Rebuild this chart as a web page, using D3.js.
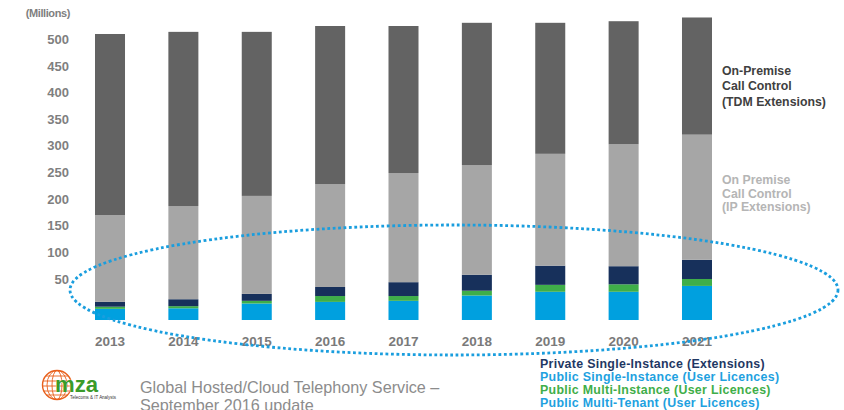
<!DOCTYPE html>
<html>
<head>
<meta charset="utf-8">
<script src="https://cdn.jsdelivr.net/npm/d3@7"></script>
<style>
  body { margin: 0; background: #fff; }
  svg { display: block; font-family: "Liberation Sans", Arial, sans-serif; }
</style>
</head>
<body>
<svg id="chart" width="844" height="410"></svg>
<script>
// data (millions)
const years = ['2013', '2014', '2015', '2016', '2017', '2018', '2019', '2020', '2021'];
const multiTenant = [21, 22, 31, 34, 36, 46, 53, 53, 64];
const multiInstance = [4, 4, 5, 11, 9, 9, 13, 14, 13];
const privateSingle = [9, 13, 13, 17, 26, 30, 36, 34, 36];
const ipExtensions = [163, 175, 184, 193, 205, 206, 210, 229, 235];
const tdmExtensions = [340, 327, 308, 297, 276, 267, 246, 231, 220];
const tickValues = [50, 100, 150, 200, 250, 300, 350, 400, 450, 500];

const keys = ['multiTenant', 'multiInstance', 'privateSingle', 'ip', 'tdm'];
const colors = {
  multiTenant: '#00a0df',
  multiInstance: '#3fae49',
  privateSingle: '#17305b',
  ip: '#a6a6a6',
  tdm: '#636363'
};

const rows = years.map((y, i) => ({
  year: y,
  multiTenant: multiTenant[i],
  multiInstance: multiInstance[i],
  privateSingle: privateSingle[i],
  ip: ipExtensions[i],
  tdm: tdmExtensions[i]
}));

const svg = d3.select('#chart');

const x = d3.scaleBand()
  .domain(years)
  .range([95, 712])
  .paddingInner(0.591)
  .paddingOuter(0);

const y = d3.scaleLinear()
  .domain([0, 500])
  .range([320, 320 - 500 * 0.5326]);

const series = d3.stack().keys(keys)(rows);

svg.append('g')
  .selectAll('g')
  .data(series)
  .join('g')
  .attr('fill', d => colors[d.key])
  .selectAll('rect')
  .data(d => d)
  .join('rect')
  .attr('x', d => x(d.data.year))
  .attr('width', x.bandwidth())
  .attr('y', d => y(d[1]))
  .attr('height', d => y(d[0]) - y(d[1]));

// value axis (labels sit a bit above the bar scale, as in the original)
const yAxis = svg.append('g')
  .attr('transform', 'translate(69,-14.4)')
  .call(d3.axisLeft(y).tickValues(tickValues).tickSize(0).tickPadding(0));
yAxis.select('.domain').remove();
yAxis.selectAll('text')
  .attr('font-family', '"Liberation Sans", Arial, sans-serif')
  .style('font-size', '13px')
  .style('font-weight', 'bold')
  .attr('fill', '#7f7f7f')
  .attr('text-anchor', 'end');

svg.append('text')
  .attr('x', 70).attr('y', 17)
  .attr('text-anchor', 'end')
  .style('font-size', '11px')
  .style('font-weight', 'bold')
  .style('letter-spacing', '-0.4px')
  .attr('fill', '#7f7f7f')
  .text('(Millions)');

// year axis
const xAxis = svg.append('g')
  .attr('transform', 'translate(0,336)')
  .call(d3.axisBottom(x).tickSize(0).tickPadding(0));
xAxis.select('.domain').remove();
xAxis.selectAll('text')
  .attr('font-family', '"Liberation Sans", Arial, sans-serif')
  .style('font-size', '13.5px')
  .style('font-weight', 'bold')
  .attr('fill', '#7a7a7a')
  .attr('dy', '0.35em')
  .attr('y', 5);

// dotted ellipse
svg.append('ellipse')
  .attr('cx', 454).attr('cy', 290)
  .attr('rx', 384).attr('ry', 65)
  .attr('fill', 'none')
  .attr('stroke', '#1a9ede')
  .attr('stroke-width', 2.8)
  .attr('stroke-dasharray', '2.8 2.6');

// right-side labels
function multiLine(lines, x0, y0, lh, color) {
  const t = svg.append('text')
    .attr('x', x0).attr('y', y0)
    .style('font-size', '12.3px')
    .style('font-weight', 'bold')
    .attr('fill', color);
  lines.forEach((l, i) => {
    t.append('tspan').attr('x', x0).attr('y', y0 + i * lh).text(l);
  });
}
multiLine(['On-Premise', 'Call Control', '(TDM Extensions)'], 722, 74.8, 15.5, '#404040');
multiLine(['On Premise', 'Call Control', '(IP Extensions)'], 722, 183.8, 13.7, '#b5b5b5');

// legend
const legendItems = [
  { label: 'Private Single-Instance (Extensions)', color: '#1f3864' },
  { label: 'Public Single-Instance (User Licences)', color: '#1ea1e0' },
  { label: 'Public Multi-Instance (User Licences)', color: '#3fae49' },
  { label: 'Public Multi-Tenant (User Licences)', color: '#1ea1e0' }
];
svg.append('g')
  .selectAll('text')
  .data(legendItems)
  .join('text')
  .attr('x', 540)
  .attr('y', (d, i) => 367.5 + i * 13.1)
  .style('font-size', '12.4px')
  .style('font-weight', 'bold')
  .style('letter-spacing', '0.3px')
  .attr('fill', d => d.color)
  .text(d => d.label);

// footer text
svg.append('text')
  .attr('x', 140).attr('y', 392.5)
  .style('font-size', '16.2px')
  .attr('fill', '#8c8c8c')
  .text('Global Hosted/Cloud Telephony Service \u2013');
svg.append('text')
  .attr('x', 140).attr('y', 411)
  .style('font-size', '16.2px')
  .attr('fill', '#8c8c8c')
  .text('September 2016 update');

// logo
const logo = svg.append('g').attr('transform', 'translate(57,385)');
logo.append('circle').attr('r', 14.5)
  .attr('fill', 'none').attr('stroke', '#e8601c').attr('stroke-width', 1.4);
[5, 10].forEach(rx => {
  logo.append('ellipse').attr('rx', rx).attr('ry', 14.5)
    .attr('fill', 'none').attr('stroke', '#e8601c').attr('stroke-width', 0.9);
});
[-9, -4, 1, 6, 10].forEach(ly => {
  const hw = Math.sqrt(14.5 * 14.5 - ly * ly);
  logo.append('line').attr('x1', -hw).attr('x2', hw).attr('y1', ly).attr('y2', ly)
    .attr('stroke', '#e8601c').attr('stroke-width', 0.9);
});
svg.append('text')
  .attr('x', 55).attr('y', 391.5)
  .attr('textLength', 43).attr('lengthAdjust', 'spacingAndGlyphs')
  .style('font-size', '22px')
  .style('font-weight', 'bold')
  .attr('fill', '#3a9b2a')
  .attr('stroke', '#ffffff').attr('stroke-width', 0.6)
  .attr('paint-order', 'stroke')
  .text('mza');
svg.append('text')
  .attr('x', 70).attr('y', 399)
  .attr('textLength', 46).attr('lengthAdjust', 'spacingAndGlyphs')
  .style('font-size', '4.5px')
  .attr('fill', '#333')
  .text('Telecoms & IT Analysts');
</script>
</body>
</html>
